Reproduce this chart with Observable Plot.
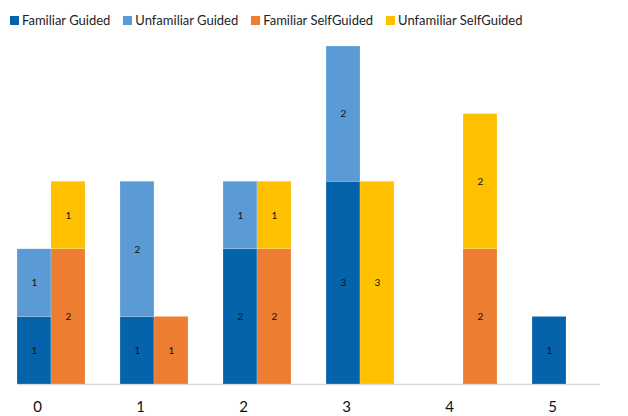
<!DOCTYPE html>
<html><head><meta charset="utf-8">
<script src="https://cdn.jsdelivr.net/npm/d3@7"></script>
<script src="https://cdn.jsdelivr.net/npm/@observablehq/plot@0.6"></script>
<style>
body{margin:0;background:#fff;font-family:Lato,sans-serif;}
#legend{height:36px;box-sizing:border-box;padding-top:4px;display:flex;align-items:center;padding-left:10px;font-size:13px;color:#222;}
.item{display:flex;align-items:center;margin-right:13px;}
.sw{width:9px;height:9px;margin-right:3px;}
</style></head>
<body>
<div id="legend"></div>
<div id="chart"></div>
<script>
const categories = ["0","1","2","3","4","5"];
const seriesNames = ["Familiar Guided","Unfamiliar Guided","Familiar SelfGuided","Unfamiliar SelfGuided"];
const seriesColors = ["#0563AB","#5B9BD5","#ED7D31","#FFC000"];
const familiarGuided = [1,1,2,3,0,1];
const unfamiliarGuided = [1,2,1,2,0,0];
const familiarSelf = [2,1,2,0,2,0];
const unfamiliarSelf = [1,0,1,3,2,0];

const leg = document.getElementById("legend");
seriesNames.forEach((s,i)=>{
  const it=document.createElement("div");it.className="item";
  const sw=document.createElement("div");sw.className="sw";sw.style.background=seriesColors[i];
  const t=document.createElement("span");t.textContent=s;
  it.appendChild(sw);it.appendChild(t);leg.appendChild(it);
});

const guided = [], self = [];
categories.forEach((c,i)=>{
  guided.push({cat:c, series:seriesNames[0], value:familiarGuided[i]});
  guided.push({cat:c, series:seriesNames[1], value:unfamiliarGuided[i]});
  self.push({cat:c, series:seriesNames[2], value:familiarSelf[i]});
  self.push({cat:c, series:seriesNames[3], value:unfamiliarSelf[i]});
});
const g = guided.filter(d=>d.value>0), s = self.filter(d=>d.value>0);

const chart = Plot.plot({
  width:628, height:380,
  marginLeft:17, marginRight:28, marginTop:10, marginBottom:32,
  style:{fontFamily:"Lato, sans-serif"},
  x:{type:"band", domain:categories, paddingInner:0.34, paddingOuter:0, label:null},
  y:{domain:[0,5], axis:null},
  color:{domain:seriesNames, range:seriesColors},
  marks:[
    Plot.ruleY([0],{stroke:"#d9d9d9", strokeWidth:1.5}),
    Plot.barY(g, Plot.stackY({x:"cat", y:"value", z:"series", fill:"series", order:seriesNames, insetRight:34, stroke:"#fff", strokeOpacity:0.4, strokeWidth:0.5})),
    Plot.barY(s, Plot.stackY({x:"cat", y:"value", z:"series", fill:"series", order:seriesNames, insetLeft:34, stroke:"#fff", strokeOpacity:0.4, strokeWidth:0.5})),
    Plot.text(g, Plot.stackY({x:"cat", y:"value", z:"series", text:"value", order:seriesNames, dx:-17, fontSize:10, fill:"#111"})),
    Plot.text(s, Plot.stackY({x:"cat", y:"value", z:"series", text:"value", order:seriesNames, dx:17, fontSize:10, fill:"#111"})),
    Plot.axisX({tickSize:0, tickPadding:17, dx:-14, fontSize:15, color:"#111", label:null})
  ]
});
document.getElementById("chart").appendChild(chart);
</script>
</body></html>
